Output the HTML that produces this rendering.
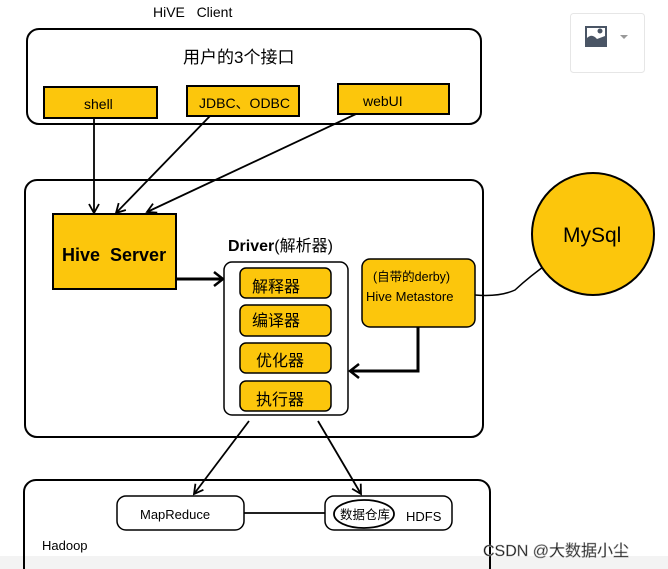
<!DOCTYPE html>
<html><head><meta charset="utf-8"><style>
html,body{margin:0;padding:0;background:#fff;width:668px;height:569px;overflow:hidden}
svg{display:block}
text{font-family:"Liberation Sans","Noto Sans CJK SC",sans-serif;fill:#000}
</style></head><body>
<svg width="668" height="569" viewBox="0 0 668 569" xmlns="http://www.w3.org/2000/svg">
<defs>
<marker id="a" markerWidth="12" markerHeight="12" refX="10" refY="6" orient="auto" markerUnits="userSpaceOnUse">
<path d="M1,1 L10,6 L1,11" fill="none" stroke="#000" stroke-width="1.8"/></marker>
<marker id="b" markerWidth="14" markerHeight="16" refX="11" refY="8" orient="auto" markerUnits="userSpaceOnUse">
<path d="M2,1 L11,8 L2,15" fill="none" stroke="#000" stroke-width="2.5"/></marker>
</defs>
<rect x="0" y="556" width="668" height="13" fill="#f3f3f3"/>
<text x="153" y="17" font-size="14">HiVE&#160;&#160;&#160;Client</text>
<rect x="570.5" y="13.5" width="74" height="59" rx="3" fill="#fff" stroke="#e6e6e6"/>
<rect x="586" y="27" width="20" height="19" fill="none" stroke="#4a5565" stroke-width="2"/>
<path d="M587,45 L587,38 Q592,33 597,39 L605,36 L605,45 Z" fill="#4a5565"/>
<circle cx="600" cy="31" r="2.5" fill="#4a5565"/>
<path d="M620,35 L628,35 L624,39 Z" fill="#999"/>
<rect x="27" y="29" width="454" height="95" rx="12" fill="none" stroke="#000" stroke-width="2"/>
<text x="183" y="63" font-size="17">用户的3个接口</text>
<rect x="44" y="87" width="113" height="31" fill="#fcc60c" stroke="#000" stroke-width="2"/>
<text x="84" y="109" font-size="14">shell</text>
<rect x="187" y="86" width="112" height="30" fill="#fcc60c" stroke="#000" stroke-width="2"/>
<text x="199" y="108" font-size="14">JDBC、ODBC</text>
<rect x="338" y="84" width="111" height="30" fill="#fcc60c" stroke="#000" stroke-width="2"/>
<text x="363" y="106" font-size="14">webUI</text>
<rect x="25" y="180" width="458" height="257" rx="12" fill="none" stroke="#000" stroke-width="2"/>
<line x1="94" y1="118" x2="94" y2="213" stroke="#000" stroke-width="1.8" marker-end="url(#a)"/>
<line x1="210" y1="116" x2="116" y2="213" stroke="#000" stroke-width="1.8" marker-end="url(#a)"/>
<line x1="356" y1="114" x2="147" y2="212" stroke="#000" stroke-width="1.8" marker-end="url(#a)"/>
<rect x="53" y="214" width="123" height="75" fill="#fcc60c" stroke="#000" stroke-width="2"/>
<text x="62" y="261" font-size="18" font-weight="bold">Hive&#160;&#160;Server</text>
<line x1="176" y1="279" x2="223" y2="279" stroke="#000" stroke-width="3" marker-end="url(#b)"/>
<text x="228" y="251" font-size="16"><tspan font-weight="bold">Driver</tspan>(解析器)</text>
<rect x="224" y="262" width="124" height="153" rx="8" fill="#fff" stroke="#000" stroke-width="1.5"/>
<rect x="240" y="268" width="91" height="30" rx="6" fill="#fcc60c" stroke="#000" stroke-width="1.5"/>
<text x="252" y="292" font-size="16">解释器</text>
<rect x="240" y="305" width="91" height="31" rx="6" fill="#fcc60c" stroke="#000" stroke-width="1.5"/>
<text x="252" y="326" font-size="16">编译器</text>
<rect x="240" y="343" width="91" height="30" rx="6" fill="#fcc60c" stroke="#000" stroke-width="1.5"/>
<text x="256" y="366" font-size="16">优化器</text>
<rect x="240" y="381" width="91" height="30" rx="6" fill="#fcc60c" stroke="#000" stroke-width="1.5"/>
<text x="256" y="405" font-size="16">执行器</text>
<rect x="362" y="259" width="113" height="68" rx="8" fill="#fcc60c" stroke="#000" stroke-width="1.5"/>
<text x="373" y="281" font-size="12.5">(自带的derby)</text>
<text x="366" y="301" font-size="13">Hive Metastore</text>
<path d="M418,327 L418,371 L350,371" fill="none" stroke="#000" stroke-width="3" marker-end="url(#b)"/>
<path d="M475,295 Q500,297 515,290 Q530,276 550,262" fill="none" stroke="#000" stroke-width="1.5"/>
<circle cx="593" cy="234" r="61" fill="#fcc60c" stroke="#000" stroke-width="2"/>
<text x="563" y="242" font-size="21">MySql</text>
<line x1="249" y1="421" x2="194" y2="494" stroke="#000" stroke-width="1.8" marker-end="url(#a)"/>
<line x1="318" y1="421" x2="361" y2="494" stroke="#000" stroke-width="1.8" marker-end="url(#a)"/>
<rect x="24" y="480" width="466" height="100" rx="12" fill="none" stroke="#000" stroke-width="2"/>
<rect x="117" y="496" width="127" height="34" rx="9" fill="#fff" stroke="#000" stroke-width="1.5"/>
<text x="140" y="519" font-size="13">MapReduce</text>
<line x1="244" y1="513" x2="325" y2="513" stroke="#000" stroke-width="1.8"/>
<rect x="325" y="496" width="127" height="34" rx="9" fill="#fff" stroke="#000" stroke-width="1.5"/>
<ellipse cx="364" cy="514" rx="30" ry="14" fill="#fff" stroke="#000" stroke-width="1.8"/>
<text x="340" y="519" font-size="12.5">数据仓库</text>
<text x="406" y="521" font-size="13">HDFS</text>
<text x="42" y="550" font-size="13">Hadoop</text>
<text x="483" y="556" font-size="16" fill="#fff" stroke="#aaa" stroke-width="0.6">CSDN @大数据小尘</text>
</svg>
</body></html>
